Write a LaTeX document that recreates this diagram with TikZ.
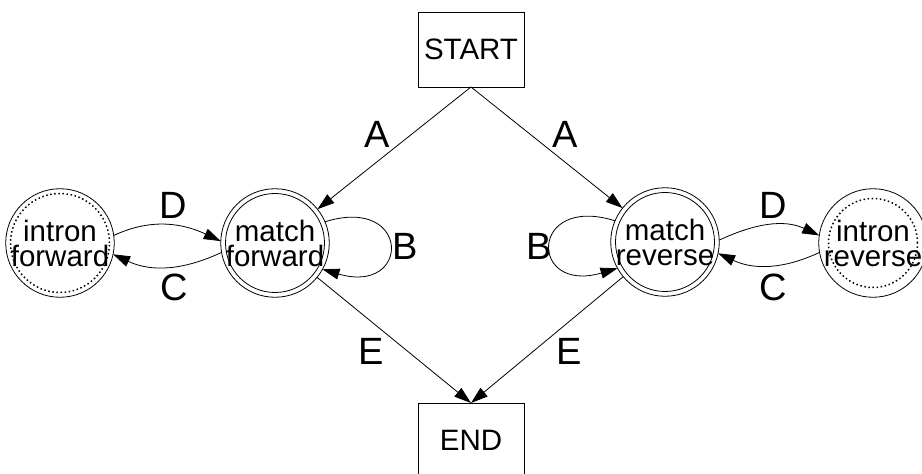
\documentclass[tikz,border=0pt]{standalone}
\usepackage{fontspec}
\setmainfont{Liberation Sans}
\usetikzlibrary{arrows.meta}

\begin{document}
\begin{tikzpicture}[x=1pt,y=1pt,
  every node/.style={inner sep=0pt,outer sep=0pt},
  statebox/.style={draw,line width=0.8pt,minimum width=106pt,minimum height=75pt,
    font=\fontsize{29.5}{29.5}\selectfont},
  state/.style={draw,circle,line width=0.8pt,minimum size=106pt,align=center,
    font=\fontsize{29.5}{25}\selectfont},
  lab/.style={font=\fontsize{38}{38}\selectfont},
  arr/.style={line width=0.8pt,-{Triangle[length=17pt,width=11pt]}},
  innerring/.style={line width=0.8pt},
  dotring/.style={line width=1.5pt,dash pattern=on 1.5pt off 2.6pt}
]
\useasboundingbox (0,0) rectangle (922,474);
\fill[white] (0,0) rectangle (922,474);
\clip (0,0) rectangle (922,474);

% boxes
\node[statebox] (start) at (471,424.5) {START};
\node[statebox] (end) at (471,33.5) {END};

% states
\node[state] (mfw) at (275,231) {match\\forward};
\node[state] (mrv) at (665,232) {match\\reverse};
\node[state] (ifw) at (60,231) {intron\\forward};
\node[state,minimum size=96pt] (irv) at (873,231) {intron\\reverse};

% inner rings
\draw[innerring] (mfw.center) circle (49.5);
\draw[innerring] (mrv.center) circle (49.5);
\draw[dotring] (ifw.center) circle (49.5);
\draw[dotring] (irv.center) circle (44.5);

% start and end transitions
\draw[arr] (start.south) -- (mfw);
\draw[arr] (start.south) -- (mrv);
\draw[arr] (mfw) -- (end.north);
\draw[arr] (mrv) -- (end.north);

% self loops
\draw[arr] (mfw.23) .. controls +(86,27) and +(89,-26) .. (mfw.-29);
\draw[arr] (mrv.157) .. controls +(-86,27) and +(-89,-26) .. (mrv.209);

% intron transitions
\draw[arr] (ifw.8) to[out=25,in=155] (mfw.178);
\draw[arr] (mfw.190) to[out=-155,in=-25] (ifw.-12);
\draw[arr] (mrv.2) to[out=25,in=155] (irv.172);
\draw[arr] (irv.190) to[out=-155,in=-25] (mrv.-12);

% labels
\node[lab] (lA1) at (377,340) {A};
\node[lab] (lA2) at (565,340) {A};
\node[lab] (lB1) at (405,228) {B};
\node[lab] (lB2) at (539,228) {B};
\node[lab] (lD1) at (173,269) {D};
\node[lab] (lD2) at (773,269) {D};
\node[lab] (lC1) at (174,187) {C};
\node[lab] (lC2) at (773,187) {C};
\node[lab] (lE1) at (371,123) {E};
\node[lab] (lE2) at (569,123) {E};
\end{tikzpicture}
\end{document}
